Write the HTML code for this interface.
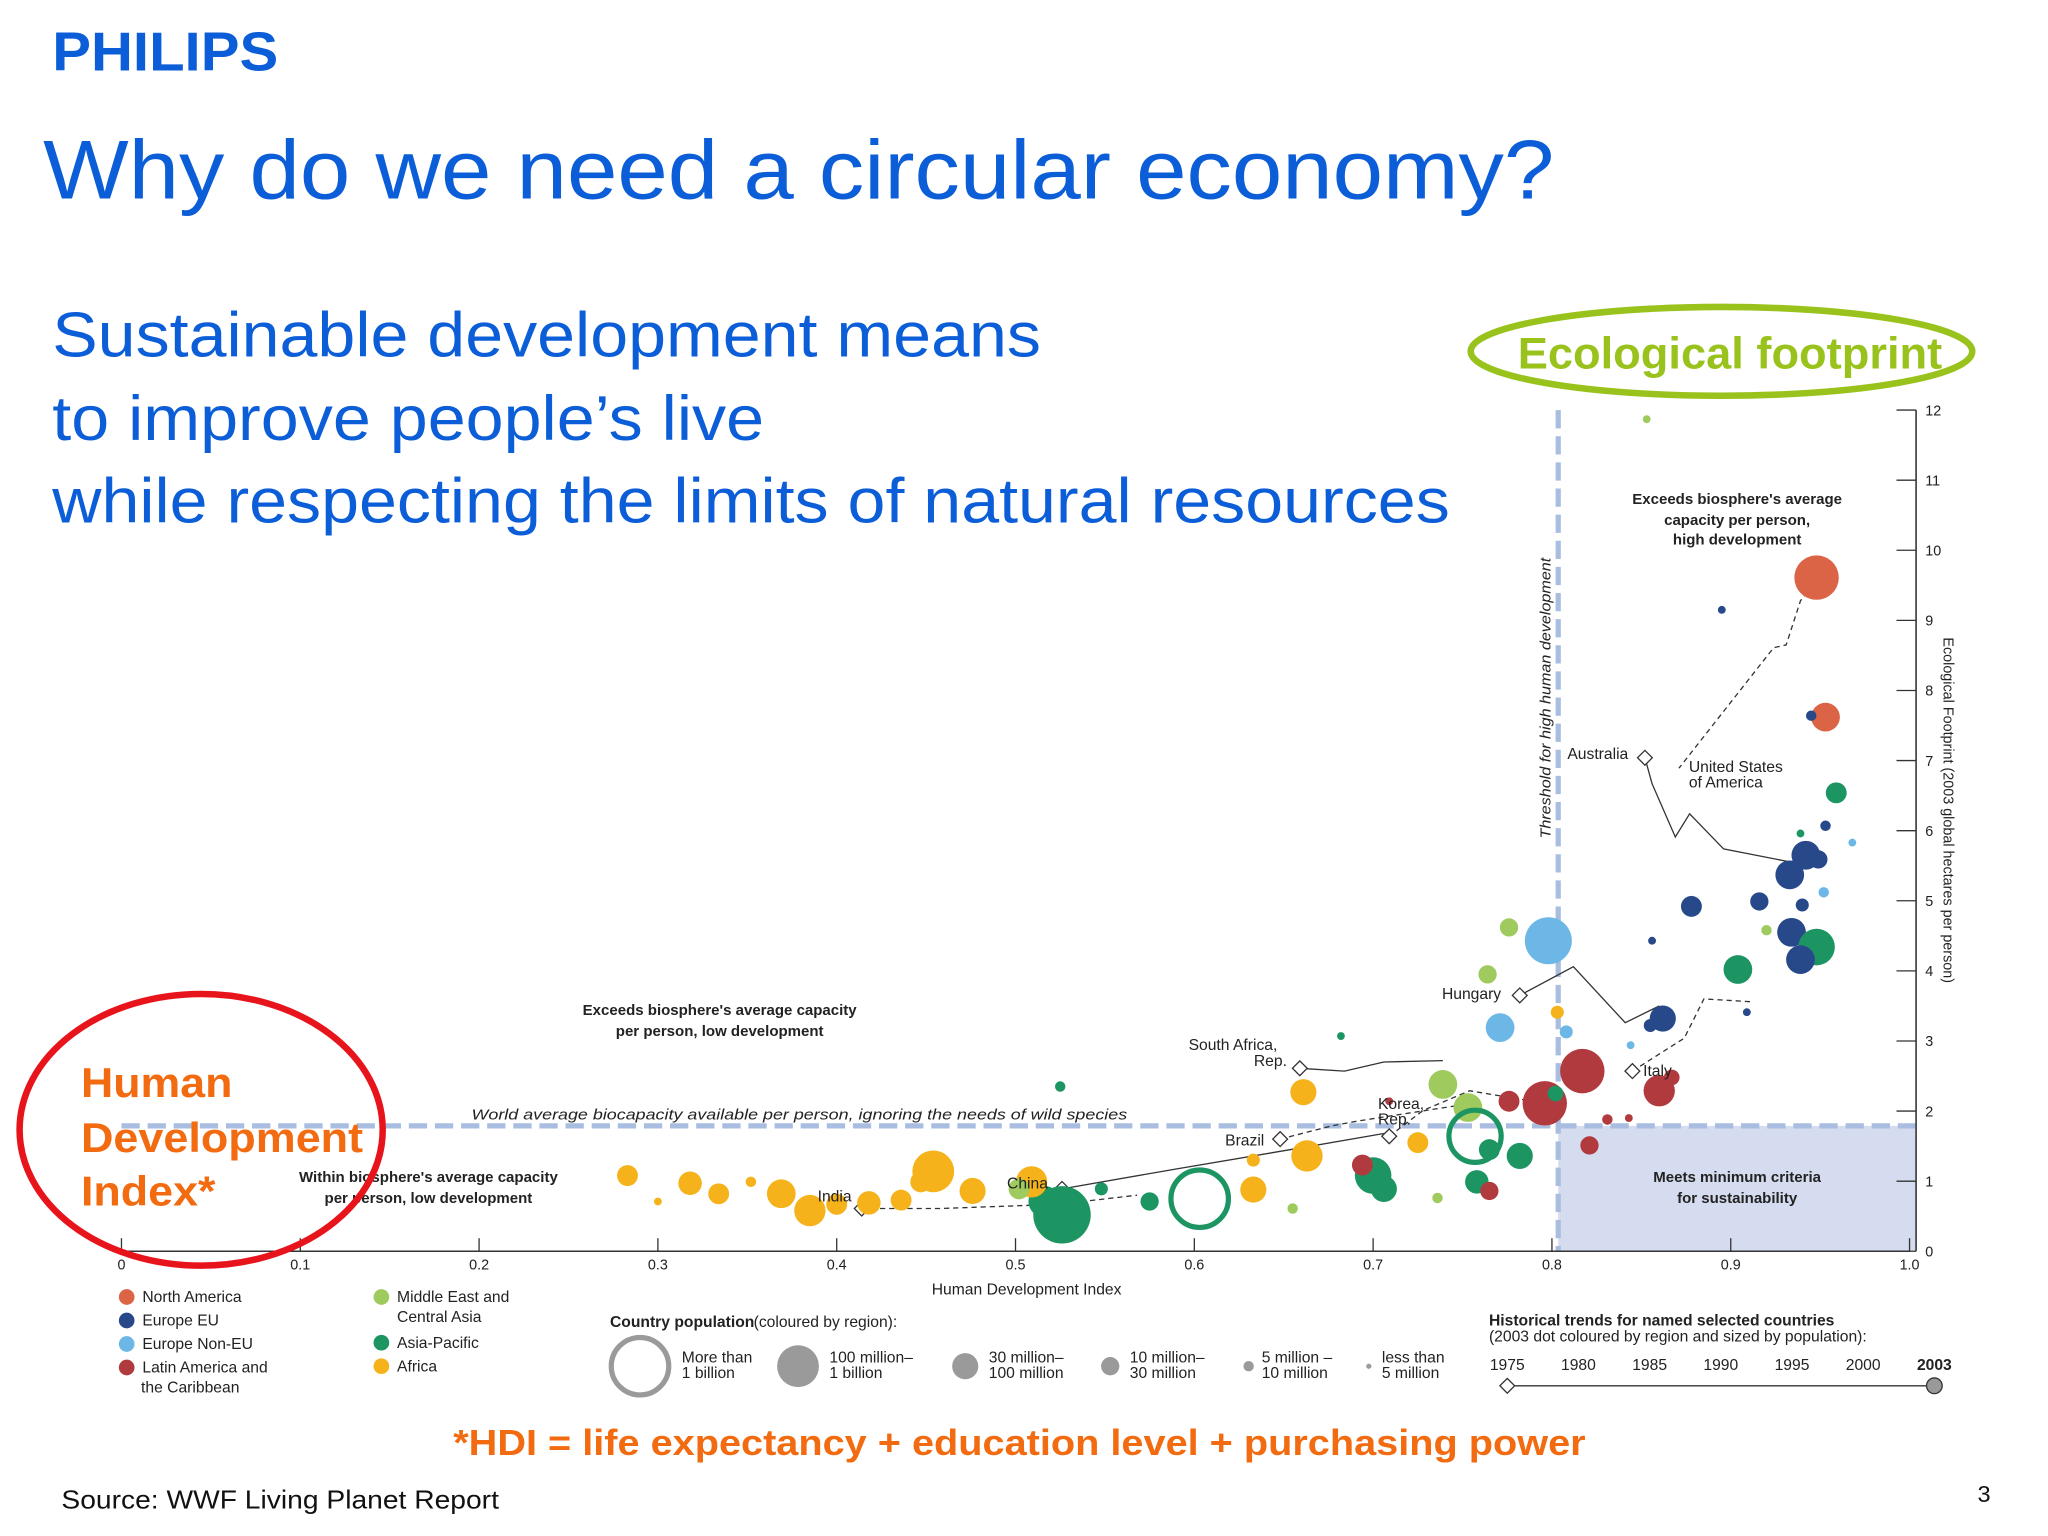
<!DOCTYPE html>
<html><head><meta charset="utf-8"><style>
html,body{margin:0;padding:0;background:#fff}
svg{display:block}
text{font-family:"Liberation Sans",sans-serif}
</style></head><body>
<svg id="s" width="2048" height="1536" viewBox="0 0 1568 1176" xmlns="http://www.w3.org/2000/svg">
<text x="40" y="54" font-size="42" font-weight="bold" fill="#0b5ed7" textLength="173" lengthAdjust="spacingAndGlyphs">PHILIPS</text>
<text x="33" y="152" font-size="64" fill="#0b5ed7" textLength="1157" lengthAdjust="spacingAndGlyphs">Why do we need a circular economy?</text>
<g font-size="48" fill="#0b5ed7">
<text x="40" y="273" textLength="757" lengthAdjust="spacingAndGlyphs">Sustainable development means</text>
<text x="40" y="337" textLength="545" lengthAdjust="spacingAndGlyphs">to improve people’s live</text>
<text x="40" y="400" textLength="1070" lengthAdjust="spacingAndGlyphs">while respecting the limits of natural resources</text></g>
<ellipse cx="1318" cy="269" rx="192" ry="34" fill="none" stroke="#99c31c" stroke-width="5"/>
<text x="1162" y="282" font-size="34" font-weight="bold" fill="#99c31c" textLength="325" lengthAdjust="spacingAndGlyphs">Ecological footprint</text>
<rect x="1193" y="862" width="274" height="96" fill="#d5dcef"/>
<line x1="93" y1="862" x2="1467" y2="862" stroke="#a9bde0" stroke-width="4" stroke-dasharray="14,6"/>
<line x1="1193" y1="314" x2="1193" y2="958" stroke="#a9bde0" stroke-width="4" stroke-dasharray="14,6"/>
<g id="axes"></g>
<g id="trends"></g>
<g id="bubbles"></g>
<g id="labels" font-size="12" fill="#222">
<text x="1330" y="386" text-anchor="middle" font-weight="bold" font-size="11.5">Exceeds biosphere's average</text>
<text x="1330" y="402" text-anchor="middle" font-weight="bold" font-size="11.5">capacity per person,</text>
<text x="1330" y="417" text-anchor="middle" font-weight="bold" font-size="11.5">high development</text>
<text x="551" y="777" text-anchor="middle" font-weight="bold" font-size="11.5">Exceeds biosphere's average capacity</text>
<text x="551" y="793" text-anchor="middle" font-weight="bold" font-size="11.5">per person, low development</text>
<text x="328" y="905" text-anchor="middle" font-weight="bold" font-size="11.5">Within biosphere's average capacity</text>
<text x="328" y="921" text-anchor="middle" font-weight="bold" font-size="11.5">per person, low development</text>
<text x="1330" y="905" text-anchor="middle" font-weight="bold" font-size="11.5">Meets minimum criteria</text>
<text x="1330" y="921" text-anchor="middle" font-weight="bold" font-size="11.5">for sustainability</text>
<text x="612" y="857" text-anchor="middle" font-style="italic" font-size="11.5" textLength="502" lengthAdjust="spacingAndGlyphs">World average biocapacity available per person, ignoring the needs of wild species</text>
<text transform="translate(1187,642) rotate(-90)" font-style="italic" font-size="11" textLength="215" lengthAdjust="spacingAndGlyphs">Threshold for high human development</text>
<text transform="translate(1488,488) rotate(90)" font-size="11">Ecological Footprint (2003 global hectares per person)</text>
<text x="786" y="991" text-anchor="middle" font-size="12">Human Development Index</text>
<text x="1200" y="581">Australia</text>
<text x="1293" y="591">United States</text><text x="1293" y="603">of America</text>
<text x="1104" y="765">Hungary</text>
<text x="1258" y="824">Italy</text>
<text x="910" y="804">South Africa,</text><text x="960" y="816">Rep.</text>
<text x="1055" y="849">Korea,</text><text x="1055" y="861">Rep.</text>
<text x="938" y="877">Brazil</text>
<text x="771" y="910">China</text>
<text x="626" y="920">India</text>
</g>
<ellipse cx="154" cy="865" rx="139" ry="104" fill="none" stroke="#e8141c" stroke-width="5"/>
<g font-size="32" font-weight="bold" fill="#f26b10">
<text x="62" y="840" textLength="116" lengthAdjust="spacingAndGlyphs">Human</text><text x="62" y="882" textLength="216" lengthAdjust="spacingAndGlyphs">Development</text><text x="62" y="923" textLength="103" lengthAdjust="spacingAndGlyphs">Index*</text></g>
<g id="legend" font-size="12" fill="#222"></g>
<text x="347" y="1114" font-size="28" font-weight="bold" fill="#f26b10" textLength="867" lengthAdjust="spacingAndGlyphs">*HDI = life expectancy + education level + purchasing power</text>
<text x="47" y="1155" font-size="20" fill="#111" textLength="335" lengthAdjust="spacingAndGlyphs">Source: WWF Living Planet Report</text>
<text x="1514" y="1150" font-size="18" fill="#111">3</text>
</svg>
<script>
const xTicks=[0,0.1,0.2,0.3,0.4,0.5,0.6,0.7,0.8,0.9,1.0];
const xTickLabels=["0","0.1","0.2","0.3","0.4","0.5","0.6","0.7","0.8","0.9","1.0"];
const yTicks=[0,1,2,3,4,5,6,7,8,9,10,11,12];
const hdi=[.948,.953,.945,.895,.853,.959,.953,.968,.939,.942,.933,.949,.940,.952,.916,.878,.856,.920,.934,.948,.939,.904,.909,.862,.855,.844,.860,.867,.817,.796,.798,.776,.764,.771,.803,.808,.739,.753,.776,.757,.782,.765,.758,.765,.700,.706,.694,.725,.663,.821,.736,.709,.682,.525,.661,.802,.633,.633,.655,.603,.575,.548,.526,.516,.509,.502,.454,.447,.476,.436,.418,.400,.385,.369,.334,.318,.283,.300,.352,.831,.843];
const footprint=[9.61,7.62,7.64,9.15,11.87,6.54,6.07,5.83,5.96,5.65,5.37,5.59,4.94,5.12,4.99,4.92,4.43,4.58,4.55,4.34,4.16,4.02,3.41,3.32,3.22,2.94,2.29,2.48,2.57,2.11,4.43,4.62,3.95,3.19,3.41,3.13,2.38,2.05,2.14,1.64,1.36,1.45,0.99,0.86,1.08,0.89,1.23,1.55,1.36,1.51,0.76,2.14,3.07,2.35,2.27,2.25,1.30,0.88,0.61,0.75,0.71,0.89,0.52,0.71,0.99,0.89,1.14,0.99,0.86,0.73,0.69,0.67,0.58,0.82,0.82,0.97,1.08,0.71,0.99,1.88,1.90];
const popSize=[17,11,4,3,3,8,4,3,3,11,11,7,5,4,7,8,3,4,11,14,11,11,3,10,5,3,12,6,17,17,18,7,7,11,5,5,11,11,8,20,10,8,9,7,14,10,8,8,12,7,4,3,3,4,10,6,5,10,4,22,7,5,22,12,12,8,16,8,10,8,9,8,12,11,8,9,8,3,4,4,3];
const region=["NA","NA","EU","EU","ME","AP","EU","NE","AP","EU","EU","EU","EU","NE","EU","EU","EU","ME","EU","AP","EU","AP","EU","EU","EU","NE","LA","LA","LA","LA","NE","ME","ME","NE","AF","NE","ME","ME","LA","RING","AP","AP","AP","LA","AP","AP","LA","AF","AF","LA","ME","LA","AP","AP","AF","AP","AF","AF","ME","RING","AP","AP","AP","AP","AF","ME","AF","AF","AF","AF","AF","AF","AF","AF","AF","AF","AF","AF","AF","LA","LA"];
const trendUSx=[.949,.939,.931,.924,.871], trendUSy=[9.61,9.28,8.65,8.61,6.89];
const trendAUx=[.852,.856,.869,.877,.896,.934], trendAUy=[7.04,6.67,5.91,6.24,5.74,5.55];
const trendITx=[.845,.874,.885,.911], trendITy=[2.57,3.04,3.60,3.56];
const trendHUx=[.782,.812,.841,.860], trendHUy=[3.65,4.06,3.26,3.50];
const trendKRx=[.709,.728,.754,.796], trendKRy=[1.64,2.01,2.29,2.11];
const trendZAx=[.659,.684,.706,.739], trendZAy=[2.61,2.57,2.70,2.72];
const trendBRx=[.648,.677,.692,.750], trendBRy=[1.60,1.79,1.86,2.09];
const trendCNx=[.526,.589,.663,.706], trendCNy=[.89,1.17,1.49,1.68];
const trendINx=[.414,.458,.524,.568], trendINy=[.61,.61,.67,.80];
const colors={NA:"#dc6446",EU:"#27498a",NE:"#6cb7e6",LA:"#b13a3f",ME:"#9fca5d",AP:"#1c9563",AF:"#f5b21a"};
const xS=h=>93+h*1369, yS=e=>958-e*53.67;
const NS="http://www.w3.org/2000/svg";
function mk(t,a,p){const e=document.createElementNS(NS,t);for(const k in a)e.setAttribute(k,a[k]);p.appendChild(e);return e;}
const ax=document.getElementById('axes');
let l=mk('line',{x1:93,y1:958,x2:1462,y2:958,stroke:'#333','stroke-width':1.2},ax);


xTicks.forEach((v,i)=>{mk('line',{x1:xS(v),y1:948,x2:xS(v),y2:958,stroke:'#333'},ax);
 const t=mk('text',{x:xS(v),y:972,'text-anchor':'middle','font-size':11,fill:'#222'},ax);t.textContent=xTickLabels[i];
 
 });
l=mk('line',{x1:1467,y1:yS(12),x2:1467,y2:958,stroke:'#333','stroke-width':1.2},ax);


yTicks.forEach(v=>{mk('line',{x1:1452,y1:yS(v),x2:1467,y2:yS(v),stroke:'#333'},ax);
 const t=mk('text',{x:1474,y:yS(v)+4,'font-size':11,fill:'#222'},ax);t.textContent=String(v);
 
 });
const tr=document.getElementById('trends');
[[trendUSx,trendUSy],[trendAUx,trendAUy],[trendITx,trendITy],[trendHUx,trendHUy],[trendKRx,trendKRy],[trendZAx,trendZAy],[trendBRx,trendBRy],[trendCNx,trendCNy],[trendINx,trendINy]].forEach(([xs,ys],i)=>{
 const pts=xs.map((x,j)=>xS(x)+','+yS(ys[j])).join(' ');
 const p=mk('polyline',{points:pts,fill:'none',stroke:'#333','stroke-width':1,'stroke-dasharray':i%2?'none':'4,3'},tr);
 
 
 const d=mk('rect',{x:xS(xs[0])-4,y:yS(ys[0])-4,width:8,height:8,fill:'#fff',stroke:'#333',transform:`rotate(45 ${xS(xs[0])} ${yS(ys[0])})`},tr);
 
 
});
const bg=document.getElementById('bubbles');
hdi.forEach((h,i)=>{
 const r=region[i];
 const c=mk('circle',{cx:xS(h),cy:yS(footprint[i]),r:popSize[i],fill:r==='RING'?'none':colors[r],stroke:r==='RING'?colors.AP:'none','stroke-width':r==='RING'?4:0},bg);
 
 
});
const lg=document.getElementById('legend');
const regNames=[["North America","NA",90,993],["Europe EU","EU",90,1011],["Europe Non-EU","NE",90,1029],["Latin America and","LA",90,1047],["Middle East and","ME",285,993],["Asia-Pacific","AP",285,1028],["Africa","AF",285,1046]];
regNames.forEach(([n,k,x,y])=>{const c=mk('circle',{cx:x+7,cy:y,r:6,fill:colors[k]},lg);
 
 
 const t=mk('text',{x:x+19,y:y+4},lg);t.textContent=n;
 
 });
[["the Caribbean",108,1066],["Central Asia",304,1012],["Country population",467,1016],["(coloured by region):",577,1016],["Historical trends for named selected countries",1140,1015],["(2003 dot coloured by region and sized by population):",1140,1027]].forEach(([n,x,y])=>{const t=mk('text',{x:x,y:y},lg);t.textContent=n;if(n==='Country population'||n.startsWith('Historical'))t.setAttribute('font-weight','bold');
 
 });
const popLeg=[[490,1046,22,"More than","1 billion",522],[611,1046,16,"100 million–","1 billion",635],[739,1046,10,"30 million–","100 million",757],[850,1046,7,"10 million–","30 million",865],[956,1046,4,"5 million –","10 million",966],[1048,1046,2,"less than","5 million",1058]];
popLeg.forEach(([x,y,r,a,b,tx],i)=>{const c=mk('circle',{cx:x,cy:y,r:r,fill:i?'#9a9a9a':'none',stroke:i?'none':'#9a9a9a','stroke-width':4},lg);
 
 
 const t1=mk('text',{x:tx,y:1043},lg);t1.textContent=a;const t2=mk('text',{x:tx,y:1055},lg);t2.textContent=b;
 
 });
["1975","1980","1985","1990","1995","2000","2003"].forEach((y,i)=>{const t=mk('text',{x:1154+i*54.5,y:1049,'text-anchor':'middle','font-weight':i==6?'bold':'normal'},lg);t.textContent=y;
 
 });
mk('line',{x1:1154,y1:1061,x2:1481,y2:1061,stroke:'#333'},lg);
mk('rect',{x:1150,y:1057,width:8,height:8,fill:'#fff',stroke:'#333',transform:'rotate(45 1154 1061)'},lg);
mk('circle',{cx:1481,cy:1061,r:6,fill:'#999',stroke:'#333'},lg);
</script>
</body></html>
